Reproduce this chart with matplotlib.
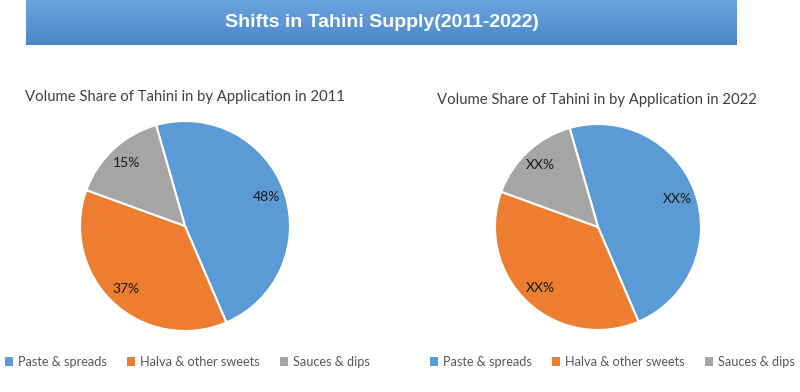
import numpy as np
import matplotlib.pyplot as plt
from matplotlib.patches import Patch

categories = ["Paste & spreads", "Halva & other sweets", "Sauces & dips"]
share_2011 = [48, 37, 15]
share_2022 = [48, 37, 15]  # placeholder shares, labels shown as XX%
labels_2011 = ["48%", "37%", "15%"]
labels_2022 = ["XX%", "XX%", "XX%"]
colors = ["#5b9bd5", "#ed7d31", "#a5a5a5"]

W, H = 800, 392
fig = plt.figure(figsize=(8, 3.92), dpi=100)
fig.patch.set_facecolor("white")


def fx(px):
    return px / W


def fy(py):
    return 1 - py / H


# --- title banner with vertical gradient
bax = fig.add_axes([fx(26), fy(45), fx(737 - 26), 45 / H])
grad = np.linspace(0, 1, 100).reshape(-1, 1)
top = np.array([0.42, 0.64, 0.87])
bot = np.array([0.29, 0.53, 0.79])
img = top + (bot - top) * grad[..., None]
bax.imshow(img, aspect="auto", extent=[0, 1, 0, 1])
bax.set_axis_off()
bax.text(0.5, 0.5, "Shifts in Tahini Supply(2011-2022)", color="white",
         fontsize=14, fontweight="bold", family="Liberation Sans",
         ha="center", va="center", transform=bax.transAxes)


def draw_pie(cx, cy, r, values, labels, title, tx, ty, legx):
    ax = fig.add_axes([fx(cx - r), fy(cy + r), 2 * r / W, 2 * r / H])
    wedges, texts = ax.pie(values, colors=colors, startangle=106, counterclock=False,
                           wedgeprops=dict(edgecolor="white", linewidth=1.5))
    for w, lab in zip(wedges, labels):
        ang = np.deg2rad((w.theta1 + w.theta2) / 2)
        ax.text(0.82 * np.cos(ang), 0.82 * np.sin(ang), lab, ha="center", va="center",
                fontsize=10, color="#1a1a1a", family="Lato")
    ax.set_xlim(-1, 1)
    ax.set_ylim(-1, 1)
    fig.text(fx(tx), fy(ty), title, fontsize=10.7, color="#404040", family="Lato",
             ha="left", va="center")
    handles = [Patch(facecolor=c, edgecolor="none") for c in colors]
    fig.legend(handles, categories, loc="center left", bbox_to_anchor=(fx(legx), fy(362)),
               ncol=3, frameon=False, handlelength=0.6, handleheight=0.6,
               handletextpad=0.4, columnspacing=1.6, borderpad=0, borderaxespad=0,
               prop={"family": "Lato", "size": 9.2}, labelcolor="#595959")


draw_pie(185, 226, 105, share_2011, labels_2011,
         "Volume Share of Tahini in by Application in 2011", 25, 97, 5)
draw_pie(598, 227, 103, share_2022, labels_2022,
         "Volume Share of Tahini in by Application in 2022", 437, 100, 430)

fig.savefig("out.png", dpi=100)
